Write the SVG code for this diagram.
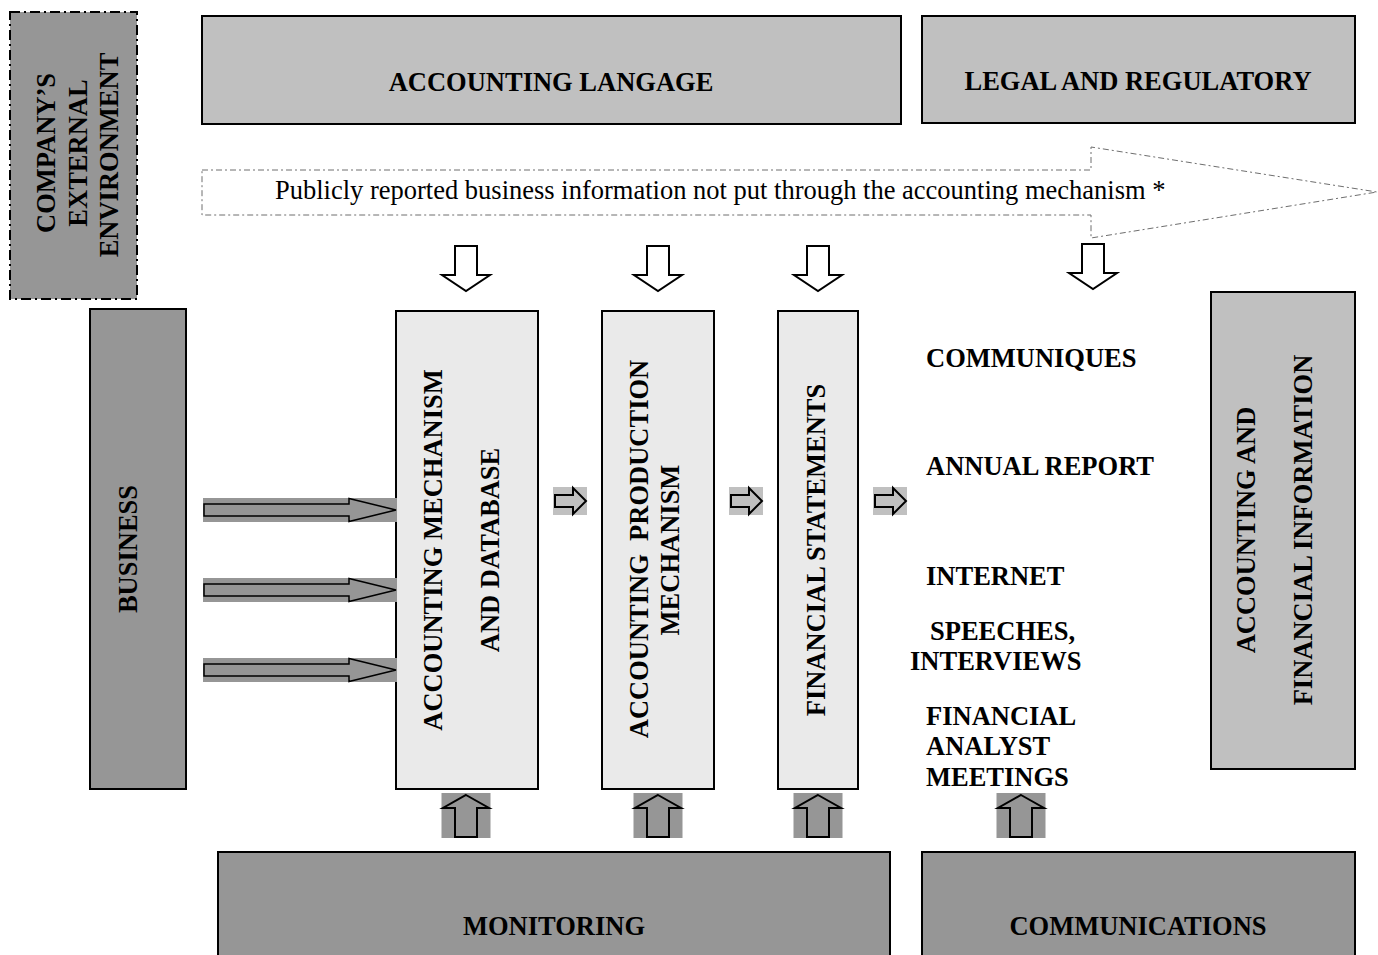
<svg xmlns="http://www.w3.org/2000/svg" xmlns:xlink="http://www.w3.org/1999/xlink" width="1378" height="955" viewBox="0 0 1378 955">
  <style>
    .lbl { font-family: "Liberation Serif", "Times New Roman", serif; font-weight: bold; font-size: 26.5px; fill: #000; }
    .mid { text-anchor: middle; }
    .pre { white-space: pre; }
    .plain { font-family: "Liberation Serif", "Times New Roman", serif; font-size: 26.5px; fill: #000; }
    .dark { fill: #969696; stroke: #000; stroke-width: 2; }
    .light { fill: #c0c0c0; stroke: #000; stroke-width: 2; }
    .pale { fill: #eaeaea; stroke: #000; stroke-width: 2; }
    .outline { stroke: #000; stroke-width: 2; stroke-linejoin: miter; }
  </style>
  <defs>
    <!-- hollow arrow pointing down, origin at top centre -->
    <path id="downArrow" class="outline" fill="#fff" d="M-11,0 H11 V29 H24 L0,45 L-24,29 H-11 Z"/>
    <!-- hollow arrow pointing up on a grey tile, origin at top centre -->
    <g id="upArrow">
      <rect x="-24.5" y="0" width="49" height="45" fill="#969696"/>
      <path class="outline" fill="#969696" d="M0,2 L23,15 H11 V44 H-11 V15 H-23 Z"/>
    </g>
    <!-- small arrow pointing right on a light tile, origin at top left -->
    <g id="rightSmall">
      <rect x="0" y="0" width="34" height="28" fill="#c0c0c0"/>
      <path class="outline" fill="#c0c0c0" d="M2,8 H20 V1 L33,14 L20,27 V20 H2 Z"/>
    </g>
    <!-- long arrow from the business column, origin at left middle -->
    <g id="bizArrow">
      <rect x="0" y="-12" width="194" height="24" fill="#969696"/>
      <path fill="#969696" stroke="#000" stroke-width="1.5" d="M1,-6 H146 V-11.5 L193,0 L146,11.5 V6 H1 Z"/>
    </g>
  </defs>

  <rect width="1378" height="955" fill="#fff"/>

  <g id="external-environment">
    <rect x="10" y="12" width="127" height="287" fill="#969696" stroke="#000" stroke-width="2" stroke-dasharray="10 4 2 4"/>
    <text class="lbl mid" transform="translate(55,153) rotate(-90)">COMPANY’S</text>
    <text class="lbl mid" transform="translate(87,153) rotate(-90)">EXTERNAL</text>
    <text class="lbl mid" transform="translate(118,155) rotate(-90)">ENVIRONMENT</text>
  </g>

  <g id="accounting-language">
    <rect class="light" x="202" y="16" width="699" height="108"/>
    <text class="lbl mid" x="551" y="91">ACCOUNTING LANGAGE</text>
  </g>

  <g id="legal-regulatory">
    <rect class="light" x="922" y="16" width="433" height="107"/>
    <text class="lbl mid" x="1138" y="90">LEGAL AND REGULATORY</text>
  </g>

  <g id="public-information">
    <path d="M202,170 H1091 V147 L1377,192 L1091,238 V215 H202 Z" fill="#fff" stroke="#6e6e6e" stroke-width="1" stroke-dasharray="6 3 2 3"/>
    <text class="plain" x="275" y="199">Publicly reported business information not put through the accounting mechanism *</text>
  </g>

  <g id="business">
    <rect class="dark" x="90" y="309" width="96" height="480"/>
    <text class="lbl mid" transform="translate(137,549) rotate(-90)">BUSINESS</text>
  </g>

  <g id="accounting-mechanism">
    <rect class="pale" x="396" y="311" width="142" height="478"/>
    <text class="lbl mid" transform="translate(442,550) rotate(-90)">ACCOUNTING MECHANISM</text>
    <text class="lbl mid" transform="translate(499,550) rotate(-90)">AND DATABASE</text>
  </g>

  <g id="production-mechanism">
    <rect class="pale" x="602" y="311" width="112" height="478"/>
    <text class="lbl mid pre" transform="translate(648,549) rotate(-90)">ACCOUNTING  PRODUCTION</text>
    <text class="lbl mid" transform="translate(679,550) rotate(-90)">MECHANISM</text>
  </g>

  <g id="financial-statements">
    <rect class="pale" x="778" y="311" width="80" height="478"/>
    <text class="lbl mid" transform="translate(825,550) rotate(-90)">FINANCIAL STATEMENTS</text>
  </g>

  <g id="channels">
    <text class="lbl" x="926" y="367">COMMUNIQUES</text>
    <text class="lbl" x="926" y="475">ANNUAL REPORT</text>
    <text class="lbl" x="926" y="585">INTERNET</text>
    <text class="lbl" x="930" y="640">SPEECHES,</text>
    <text class="lbl" x="910" y="670">INTERVIEWS</text>
    <text class="lbl" x="926" y="725">FINANCIAL</text>
    <text class="lbl" x="926" y="755">ANALYST</text>
    <text class="lbl" x="926" y="786">MEETINGS</text>
  </g>

  <g id="financial-information">
    <rect class="light" x="1211" y="292" width="144" height="477"/>
    <text class="lbl mid" transform="translate(1255,530) rotate(-90)">ACCOUNTING AND</text>
    <text class="lbl mid" transform="translate(1312,530) rotate(-90)">FINANCIAL INFORMATION</text>
  </g>

  <g id="monitoring">
    <rect class="dark" x="218" y="852" width="672" height="110"/>
    <text class="lbl mid" x="554" y="935">MONITORING</text>
  </g>

  <g id="communications">
    <rect class="dark" x="922" y="852" width="433" height="110"/>
    <text class="lbl mid" x="1138" y="935">COMMUNICATIONS</text>
  </g>

  <g id="connectors">
    <!-- downward inputs from the regulatory layer -->
    <use xlink:href="#downArrow" transform="translate(466,246)"/>
    <use xlink:href="#downArrow" transform="translate(658,246)"/>
    <use xlink:href="#downArrow" transform="translate(818,246)"/>
    <use xlink:href="#downArrow" transform="translate(1093,244)"/>
    <!-- business flows into the accounting mechanism -->
    <use xlink:href="#bizArrow" transform="translate(203,510)"/>
    <use xlink:href="#bizArrow" transform="translate(203,590)"/>
    <use xlink:href="#bizArrow" transform="translate(203,670)"/>
    <!-- flow between the processing stages -->
    <use xlink:href="#rightSmall" transform="translate(553,487)"/>
    <use xlink:href="#rightSmall" transform="translate(729,487)"/>
    <use xlink:href="#rightSmall" transform="translate(873,487)"/>
    <!-- upward inputs from monitoring and communications -->
    <use xlink:href="#upArrow" transform="translate(466,793)"/>
    <use xlink:href="#upArrow" transform="translate(658,793)"/>
    <use xlink:href="#upArrow" transform="translate(818,793)"/>
    <use xlink:href="#upArrow" transform="translate(1021,793)"/>
  </g>
</svg>
